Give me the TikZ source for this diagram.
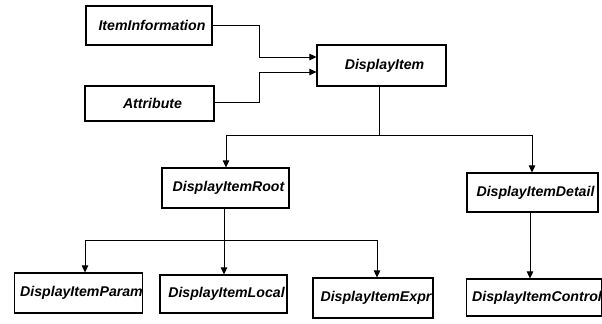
\documentclass[tikz,border=0pt]{standalone}
\usepackage{fontspec}
\setmainfont{Liberation Sans}
\usetikzlibrary{arrows.meta}
\tikzset{
  classbox/.style={draw=black, line width=1.1bp, fill=white, inner sep=0pt,
    font=\fontsize{14.2}{16}\selectfont\bfseries\itshape},
  link/.style={draw=black, line width=0.8bp},
  tolink/.style={link, -{Triangle[length=7bp,width=6.5bp]}},
}
\newcommand{\classnode}[6]{% name, x1, y1, x2, y2, text
  \node[classbox, minimum width={(#4-#2)*1bp}, minimum height={(#5-#3)*1bp}]
    (#1) at ({(#2+#4)/2},{(#3+#5)/2}) {\hspace{6bp}#6};}
\begin{document}
\begin{tikzpicture}[x=1bp,y=-1bp]
  \useasboundingbox (0,0) rectangle (602,323);

  % class boxes
  \classnode{info}{86}{6}{212}{45}{ItemInformation}
  \classnode{attr}{85}{86}{214}{121}{Attribute}
  \classnode{disp}{317}{45}{446}{86}{DisplayItem}
  \classnode{root}{162}{168}{289}{208}{DisplayItemRoot}
  \classnode{detail}{467}{173}{598}{212}{DisplayItemDetail}
  \classnode{param}{15}{273}{142}{313}{DisplayItemParam}
  \classnode{local}{160}{275}{287}{313}{DisplayItemLocal}
  \classnode{expr}{313}{278}{433}{318}{DisplayItemExpr}
  \classnode{control}{467}{279}{601}{316}{DisplayItemControl}

  % bend points of the routed connectors
  \coordinate (b1) at (259,25);
  \coordinate (b2) at (259,57);
  \coordinate (b3) at (259,102);
  \coordinate (b4) at (259,72);
  \coordinate (t1) at (379,135);
  \coordinate (t2) at (224,240);

  % inputs into DisplayItem
  \draw[tolink] (info.east |- b1) -- (b1) -- (b2) -- (disp.west |- b2);
  \draw[tolink] (attr.east |- b3) -- (b3) -- (b4) -- (disp.west |- b4);

  % DisplayItem to its two subclasses
  \draw[link] (disp.south -| t1) -- (t1);
  \draw[tolink] (t1) -- (226,135) -- (root.north -| 226,0);
  \draw[tolink] (t1) -- (532,135) -- (detail.north -| 532,0);

  % DisplayItemRoot to its three subclasses
  \draw[link] (root.south -| t2) -- (t2);
  \draw[tolink] (t2) -- (85,240) -- (param.north -| 85,0);
  \draw[tolink] (t2) -- (local.north -| t2);
  \draw[tolink] (t2) -- (377,240) -- (expr.north -| 377,0);

  % DisplayItemDetail to DisplayItemControl
  \draw[tolink] (detail.south -| 530,0) -- (control.north -| 530,0);
\end{tikzpicture}
\end{document}
